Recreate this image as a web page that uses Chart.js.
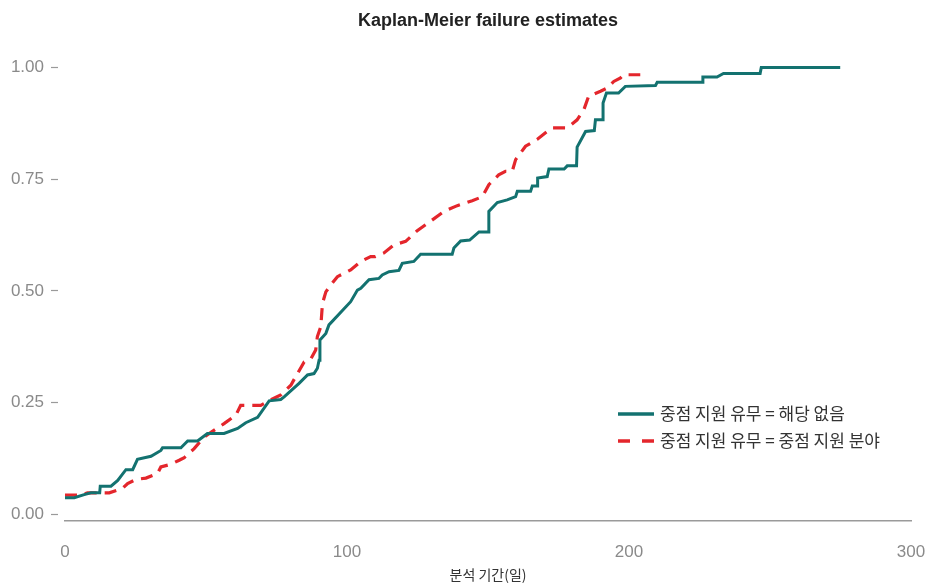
<!DOCTYPE html>
<html>
<head>
<meta charset="utf-8">
<title>Kaplan-Meier failure estimates</title>
<script src="https://cdn.jsdelivr.net/npm/chart.js@4.4.1/dist/chart.umd.min.js"></script>
<style>
  body { margin: 0; background: #fff; }
  #wrap { width: 936px; height: 585px; }
</style>
</head>
<body>
<div id="wrap"><canvas id="kmChart" width="936" height="585"></canvas></div>
<script>
// curve vertices (day, cumulative failure)
var daysNone = [0, 3.3, 6.8, 9.2, 12.3, 12.5, 16.3, 18.7, 21.6, 24, 25.7, 30.5, 34, 34.6, 41.1, 43.5, 47, 50.5, 56.4, 61.2,
  64.1, 68.3, 72.4, 76.5, 77.7, 83, 86, 88.3, 89.5, 90.1, 90.4, 92.5, 93.6, 101.3, 103.7, 104.9, 107.8, 111.3, 112.5, 114.9,
  118.4, 119.6, 123.7, 126.1, 137.3, 137.9, 140.3, 143.5, 146.8, 150.3, 150.3, 153.3, 156.8, 159.8, 160.4, 165.1, 165.7, 167.4, 167.6, 171,
  171.6, 177, 178.1, 181.4, 181.6, 184.6, 187.7, 188.1, 190.8, 190.8, 192, 196.3, 198.7, 209.4, 210, 226, 226.2, 231.2, 233.5, 246.5,
  246.9, 274.9];
var failNone = [0.037, 0.037, 0.044, 0.048, 0.048, 0.063, 0.063, 0.076, 0.100, 0.100, 0.123, 0.130, 0.143, 0.149, 0.149, 0.164, 0.164, 0.181, 0.181, 0.192,
  0.205, 0.217, 0.254, 0.257, 0.263, 0.293, 0.312, 0.315, 0.327, 0.345, 0.390, 0.405, 0.424, 0.476, 0.502, 0.506, 0.525, 0.528, 0.536, 0.543,
  0.546, 0.562, 0.566, 0.582, 0.582, 0.596, 0.612, 0.614, 0.632, 0.632, 0.678, 0.698, 0.704, 0.711, 0.723, 0.723, 0.735, 0.735, 0.753, 0.756,
  0.773, 0.773, 0.780, 0.780, 0.822, 0.857, 0.859, 0.883, 0.883, 0.921, 0.943, 0.943, 0.958, 0.960, 0.967, 0.967, 0.979, 0.979, 0.987, 0.987,
  1.000, 1.000];

var daysFocus = [0, 5.5, 8, 15.7, 20.4, 22.2, 25.2, 28.7, 32.8, 34, 37.5, 40.5, 42.3, 45.8, 49.3, 56.4, 60.6, 62.3, 69.4, 72.9,
  76.5, 80.1, 81.8, 84.8, 87.1, 88.9, 89.5, 90.7, 91.3, 92.5, 94.2, 96.6, 101.3, 104.9, 108.4, 110, 113.1, 116.6, 120.8, 124.9,
  129.6, 134.4, 139.1, 144.4, 148, 150.3, 153.8, 156.2, 158.6, 159.8, 163.3, 167.4, 171, 172.7, 178.1, 181.6, 184, 185.7, 189.9, 192.2,
  194.6, 197, 198.1, 204];
var failFocus = [0.043, 0.043, 0.048, 0.048, 0.058, 0.069, 0.078, 0.081, 0.091, 0.106, 0.112, 0.121, 0.127, 0.147, 0.173, 0.203, 0.222, 0.244, 0.244, 0.256,
  0.267, 0.289, 0.308, 0.341, 0.347, 0.368, 0.398, 0.420, 0.472, 0.498, 0.513, 0.532, 0.547, 0.566, 0.577, 0.577, 0.585, 0.603, 0.611, 0.635,
  0.656, 0.678, 0.691, 0.702, 0.711, 0.738, 0.760, 0.768, 0.768, 0.794, 0.824, 0.839, 0.857, 0.865, 0.865, 0.883, 0.906, 0.936, 0.947, 0.954,
  0.969, 0.977, 0.984, 0.984];

var seriesLabels = ['중점 지원 유무 = 해당 없음', '중점 지원 유무 = 중점 지원 분야'];
var yTickValues = [0, 0.25, 0.5, 0.75, 1];
var xTickValues = [0, 100, 200, 300];

function toPoints(xs, ys) {
  return xs.map(function (x, i) { return { x: x, y: ys[i] }; });
}

var tickFont = { family: "'Liberation Sans Narrow', 'Liberation Sans', sans-serif", size: 17 };

// legend sits inside the plot, bottom right, like the stata one
var insideLegend = {
  id: 'insideLegend',
  afterDatasetsDraw: function (chart) {
    var ctx = chart.ctx, area = chart.chartArea;
    ctx.save();
    chart.data.datasets.forEach(function (ds, i) {
      var x = area.left + 553;
      var y = area.bottom - 107 + i * 27;
      ctx.strokeStyle = ds.borderColor;
      ctx.lineWidth = 3.5;
      ctx.setLineDash(ds.borderDash ? [12, 12] : []);
      ctx.beginPath();
      ctx.moveTo(x, y);
      ctx.lineTo(x + 36, y);
      ctx.stroke();
      ctx.setLineDash([]);
      ctx.fillStyle = '#333';
      ctx.font = "17px 'Noto Sans CJK KR', sans-serif";
      ctx.textBaseline = 'middle';
      ctx.fillText(ds.label, x + 42, y);
    });
    ctx.restore();
  }
};

var ctx = document.getElementById('kmChart').getContext('2d');
var kmChart = new Chart(ctx, {
  type: 'line',
  data: {
    datasets: [
      {
        label: seriesLabels[0],
        data: toPoints(daysNone, failNone),
        borderColor: '#137270',
        borderWidth: 3,
        pointRadius: 0,
        tension: 0,
        fill: false,
        clip: 6
      },
      {
        label: seriesLabels[1],
        data: toPoints(daysFocus, failFocus),
        borderColor: '#e4262c',
        borderWidth: 3.2,
        borderDash: [12, 8],
        pointRadius: 0,
        tension: 0,
        fill: false,
        clip: 6
      }
    ]
  },
  plugins: [insideLegend],
  options: {
    responsive: false,
    animation: false,
    layout: { padding: { left: 0, right: 25, top: 0, bottom: 0 } },
    plugins: {
      legend: { display: false },
      tooltip: { enabled: false },
      title: {
        display: true,
        fullSize: false,
        text: 'Kaplan-Meier failure estimates',
        color: '#222',
        font: { family: "'Liberation Sans', Arial, sans-serif", size: 18, weight: 'bold' },
        padding: { top: 10, bottom: 36 }
      }
    },
    scales: {
      x: {
        type: 'linear',
        min: 0,
        max: 300,
        afterBuildTicks: function (s) { s.ticks = xTickValues.map(function (v) { return { value: v }; }); },
        afterFit: function (s) {
          s.height = 64;
          // tick padding would otherwise eat into the right side
          s.paddingLeft = 0;
          s.paddingRight = 0;
        },
        grid: { display: false, drawTicks: false },
        border: { display: true, color: '#9a9a9a', width: 1.5 },
        ticks: { color: '#8a8a8a', font: tickFont, padding: 21, maxRotation: 0 },
        title: {
          display: true,
          text: '분석 기간(일)',
          color: '#333',
          font: { family: "'Noto Sans CJK KR', sans-serif", size: 14 },
          padding: { top: 0, bottom: 2 }
        }
      },
      y: {
        type: 'linear',
        min: -0.015,
        max: 1,
        afterBuildTicks: function (s) { s.ticks = yTickValues.map(function (v) { return { value: v }; }); },
        afterFit: function (s) { s.width = 65; },
        grid: {
          display: true,
          drawOnChartArea: false,
          drawTicks: true,
          tickLength: 14,
          tickBorderDash: [7, 7],
          tickColor: '#9a9a9a',
          tickWidth: 1.2
        },
        border: { display: false },
        ticks: {
          color: '#8a8a8a',
          font: tickFont,
          padding: 7,
          callback: function (v) { return Number(v).toFixed(2); }
        }
      }
    }
  }
});
</script>
</body>
</html>
